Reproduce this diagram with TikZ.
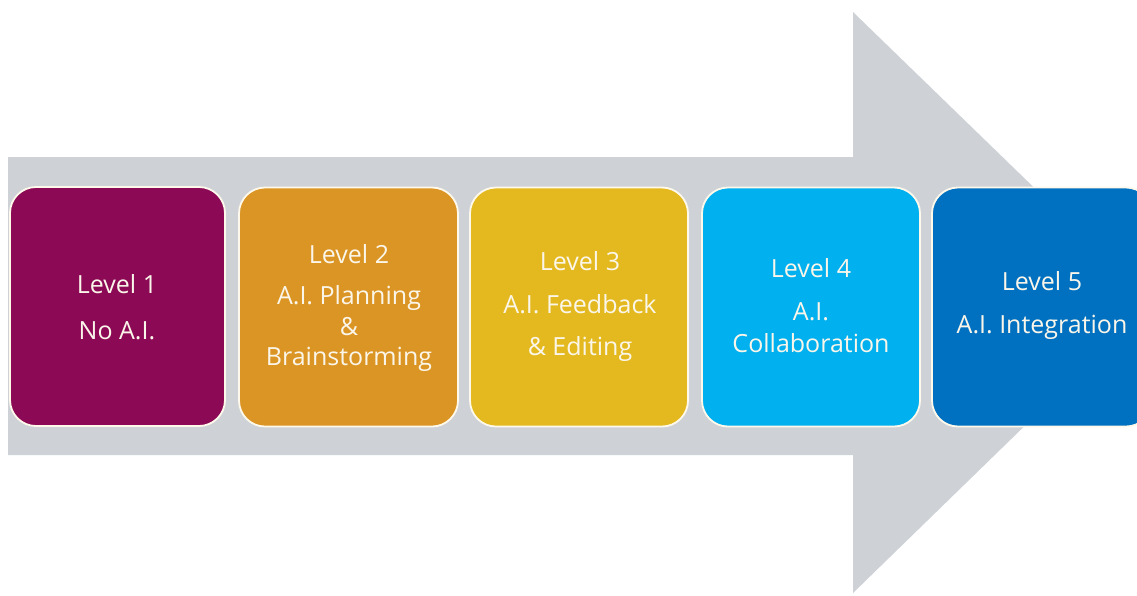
\documentclass[tikz,border=0pt]{standalone}
\usepackage{fontspec}
\setmainfont{Open Sans}
\definecolor{arrowgray}{HTML}{CED2D7}
\definecolor{cone}{HTML}{8C0A55}
\definecolor{ctwo}{HTML}{DB9524}
\definecolor{cthree}{HTML}{E4B91F}
\definecolor{cfour}{HTML}{00B0EF}
\definecolor{cfive}{HTML}{0070C0}
\definecolor{txtcol}{HTML}{FBF6EA}
\definecolor{edgecol}{HTML}{FFF9EC}
\tikzset{
  levelbox/.style={draw=edgecol, line width=1.8pt, rounded corners=26pt, rectangle, inner sep=0pt, minimum height=239pt},
  leveltext/.style={text=txtcol, font=\fontsize{25}{30}\selectfont, align=center, anchor=base, inner sep=0pt}
}
\begin{document}
\begin{tikzpicture}[x=1pt,y=-1pt]
\clip (0,0) rectangle (1137,595);
\fill[white] (0,0) rectangle (1137,595);
% big arrow
\fill[arrowgray] (8,157) -- (853,157) -- (853,12) -- (1152,302) -- (853,593) -- (853,455) -- (8,455) -- cycle;
% boxes
\node[levelbox, fill=cone,   minimum width=215pt] (b1) at (117.5,306.5) {};
\node[levelbox, fill=ctwo,   minimum width=219pt] (b2) at (348.5,307) {};
\node[levelbox, fill=cthree, minimum width=218pt] (b3) at (579,307) {};
\node[levelbox, fill=cfour,  minimum width=218pt] (b4) at (811,307) {};
\node[levelbox, fill=cfive,  minimum width=220pt] (b5) at (1042,307) {};
% texts (anchored at the baseline of the last line)
\node[leveltext] (t1) at (117,339) {Level 1\\[16pt]No A.I.};
\node[leveltext] (t2) at (349,365) {Level 2\\[11pt]A.I. Planning\\[1pt]\&\\[0pt]Brainstorming};
\node[leveltext] (t3) at (580,355) {Level 3\\[13pt]A.I. Feedback\\[12pt]\& Editing};
\node[leveltext] (t4) at (811,352) {Level 4\\[13pt]A.I.\\[2pt]Collaboration};
\node[leveltext] (t5) at (1042,333) {Level 5\\[13pt]A.I. Integration};
\end{tikzpicture}
\end{document}
